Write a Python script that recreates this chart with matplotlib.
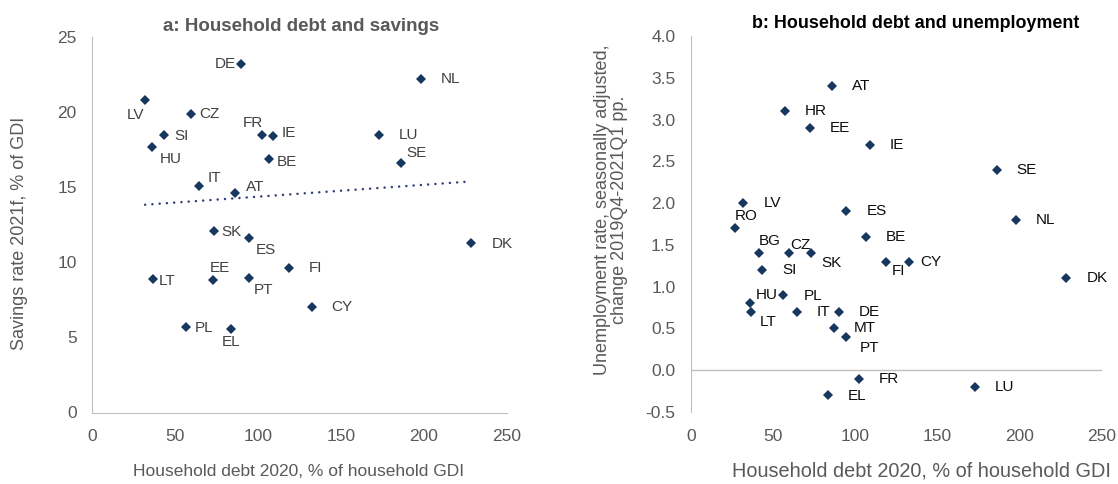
import matplotlib
matplotlib.use("Agg")
import matplotlib.pyplot as plt
import numpy as np

plt.rcParams['font.family'] = ['Liberation Sans', 'DejaVu Sans']

# household debt 2020, % of household GDI
debt = {
    'AT': 86.0, 'BE': 106.6, 'BG': 41.7, 'CY': 132.6, 'CZ': 59.7, 'DE': 90.0,
    'DK': 228.5, 'EE': 72.6, 'EL': 83.6, 'ES': 94.7, 'FI': 118.7, 'FR': 102.3,
    'HR': 57.4, 'HU': 36.0, 'IE': 108.8, 'IT': 64.6, 'LT': 36.8, 'LU': 172.7,
    'LV': 32.0, 'MT': 87.2, 'NL': 198.0, 'PL': 56.4, 'PT': 94.7, 'RO': 27.1,
    'SE': 186.1, 'SI': 43.3, 'SK': 73.4,
}

# panel a: savings rate 2021f, % of GDI
sav_countries = ['DE', 'NL', 'LV', 'CZ', 'SI', 'HU', 'FR', 'IE', 'BE', 'LU', 'SE', 'IT',
                 'AT', 'SK', 'ES', 'DK', 'FI', 'LT', 'EE', 'PT', 'CY', 'PL', 'EL']
savings = [23.2, 22.2, 20.8, 19.9, 18.5, 17.7, 18.5, 18.4, 16.9, 18.5, 16.6, 15.05,
           14.6, 12.1, 11.6, 11.3, 9.6, 8.9, 8.8, 8.95, 7.0, 5.7, 5.55]

# panel b: change in unemployment rate 2019Q4-2021Q1, pp.
unemp_countries = ['AT', 'HR', 'EE', 'IE', 'SE', 'LV', 'ES', 'NL', 'RO', 'BE', 'BG', 'CZ',
                   'SK', 'FI', 'CY', 'SI', 'DK', 'PL', 'HU', 'LT', 'IT', 'DE', 'MT', 'PT',
                   'FR', 'LU', 'EL']
unemp = [3.4, 3.1, 2.9, 2.7, 2.4, 2.0, 1.9, 1.8, 1.7, 1.6, 1.4, 1.4,
         1.4, 1.3, 1.3, 1.2, 1.1, 0.9, 0.8, 0.7, 0.7, 0.7, 0.5, 0.4,
         -0.1, -0.2, -0.3]

# label placement (pixels: dx, dy up, horizontal alignment)
offs_a = {
    'DE': (-6, 0, 'right'), 'NL': (20, 0, 'left'), 'LV': (-10, -15, 'center'),
    'CZ': (8, 0, 'left'), 'SI': (10, -1, 'left'), 'HU': (19, -12, 'center'),
    'FR': (-9, 12, 'center'), 'IE': (9, 3, 'left'), 'BE': (8, -3, 'left'),
    'LU': (20, 0, 'left'), 'SE': (16, 10, 'center'), 'IT': (15, 8, 'center'),
    'AT': (20, 6, 'center'), 'SK': (8, -1, 'left'), 'ES': (17, -12, 'center'),
    'DK': (20, -1, 'left'), 'FI': (20, 0, 'left'), 'LT': (6, -2, 'left'),
    'EE': (7, 12, 'center'), 'PT': (14, -12, 'center'), 'CY': (19, 0, 'left'),
    'PL': (9, -1, 'left'), 'EL': (0, -13, 'center'),
}
offs_b = {
    'RO': (11, 12, 'center'), 'BG': (10, 12, 'center'), 'CZ': (12, 8, 'center'),
    'SK': (10, -10, 'left'), 'FI': (13, -9, 'center'), 'CY': (12, 0, 'left'),
    'HU': (17, 8, 'center'), 'LT': (17, -10, 'center'), 'PT': (23, -11, 'center'),
    'PL': (20, -1, 'left'), 'EL': (20, -1, 'left'),
}

W, H = 1118, 484
navy = '#17375E'
grey = '#595959'
axis_grey = '#BFBFBF'


def fx(px):
    return px / W


def fy(py):
    return 1 - py / H


def style_axes(ax):
    for s in ['top', 'right']:
        ax.spines[s].set_visible(False)
    ax.spines['left'].set_color(axis_grey)
    ax.spines['bottom'].set_color(axis_grey)
    ax.tick_params(length=0, labelsize=12.5, labelcolor=grey)
    ax.tick_params(axis='x', pad=12)
    ax.tick_params(axis='y', pad=11)


def label_points(ax, names, xs, ys, offs, color, default=(20, 0, 'left')):
    for n, x, y in zip(names, xs, ys):
        dx, dy, ha = offs.get(n, default)
        ax.annotate(n, (x, y), xytext=(dx * 0.72, dy * 0.72), textcoords='offset points',
                    ha=ha, va='center', fontsize=11, color=color)


fig = plt.figure(figsize=(W / 100, H / 100), dpi=100)

# ---- panel a
ax1 = fig.add_axes([fx(92), fy(412.5), (507 - 92) / W, 375.5 / H])
style_axes(ax1)
xa = [debt[c] for c in sav_countries]
ax1.plot(xa, savings, linestyle='none', marker='D', ms=5, color=navy, mew=0)
k, b = np.polyfit(xa, savings, 1)
xt = np.array([min(xa), max(xa)])
ax1.plot(xt, k * xt + b, color='#2E3A7A', lw=1.8, linestyle=(0, (0.01, 2.9)),
         dash_capstyle='round')
label_points(ax1, sav_countries, xa, savings, offs_a, '#404040')
ax1.set_xlim(0, 250)
ax1.set_ylim(0, 25)
ax1.set_xticks([0, 50, 100, 150, 200, 250])
ax1.set_yticks([0, 5, 10, 15, 20, 25])

fig.text(fx(301), fy(26.5), 'a: Household debt and savings', ha='center', va='center',
         fontsize=13.5, fontweight='bold', color=grey)
fig.text(fx(20), fy(233), 'Savings rate 2021f, % of GDI', rotation=90, ha='center',
         va='center', fontsize=13, color=grey)
fig.text(fx(299), fy(472), 'Household debt 2020, % of household GDI', ha='center',
         va='center', fontsize=12.5, color=grey)

# ---- panel b
ax2 = fig.add_axes([fx(690.7), fy(412), 411 / W, 376 / H])
style_axes(ax2)
ax2.spines['bottom'].set_visible(False)
ax2.axhline(0, color=axis_grey, lw=1.0)
xb = [debt[c] for c in unemp_countries]
ax2.plot(xb, unemp, linestyle='none', marker='D', ms=5, color=navy, mew=0)
label_points(ax2, unemp_countries, xb, unemp, offs_b, '#0D0D0D')
ax2.set_xlim(0, 250)
ax2.set_ylim(-0.5, 4.0)
ax2.set_xticks([0, 50, 100, 150, 200, 250])
ax2.set_yticks(np.arange(-0.5, 4.01, 0.5))
ax2.set_yticklabels([f'{v:.1f}' for v in np.arange(-0.5, 4.01, 0.5)])

fig.text(fx(916), fy(23), 'b: Household debt and unemployment', ha='center', va='center',
         fontsize=12.9, fontweight='bold', color='black')
fig.text(fx(611), fy(210), 'Unemployment rate, seasonally adjusted,\nchange 2019Q4-2021Q1 pp.',
         rotation=90, ha='center', va='center', multialignment='center', linespacing=0.95,
         fontsize=13, color=grey)
fig.text(fx(921), fy(471), 'Household debt 2020, % of household GDI', ha='center',
         va='center', fontsize=14.3, color=grey)

fig.savefig('out.png', dpi=100)
